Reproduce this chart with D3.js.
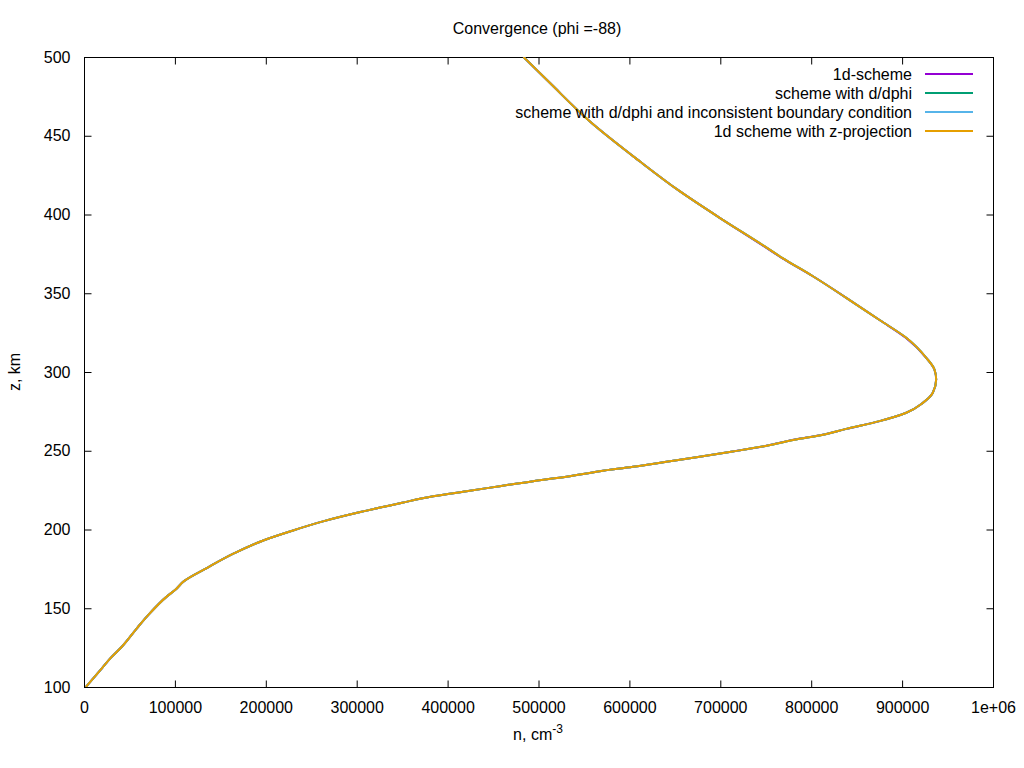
<!DOCTYPE html>
<html>
<head>
<meta charset="utf-8">
<script src="https://cdn.jsdelivr.net/npm/d3@7"></script>
<style>
  body { margin: 0; background: #fff; }
  svg { font-family: "Liberation Sans", Arial, sans-serif; font-size: 16px; }
  text { fill: #000; }
</style>
</head>
<body>
<svg id="chart" width="1024" height="768"></svg>
<script>
//Chart title and axis labels
var title = "Convergence (phi =-88)";
var xTicks = [0, 100000, 200000, 300000, 400000, 500000, 600000, 700000, 800000, 900000, 1000000];
var yTicks = [100, 150, 200, 250, 300, 350, 400, 450, 500];

//Altitude grid shared by all series (km)
var zKm = [100, 112.2, 118.5, 125.9, 137.6, 145, 157.7, 161.9, 167.2, 175.7,
    184.8, 193.2, 198.9, 205.3, 210.6, 214.4, 217, 221.1, 224.3, 227.5,
    230.7, 233.5, 237, 239.8, 243, 246.2, 249.5, 253, 257.6, 259.7,
    263.9, 268.8, 274.1, 280.4, 286.8, 295.2, 301.6, 309, 321.7, 333,
    347.1, 360.8, 372.5, 379.9, 397.9, 414.8, 433.8, 459.2, 483.6, 500];

//Density per scheme (cm^-3)
var n1dScheme = [2000, 20100, 29400, 42100, 58600, 69600, 91600, 100800, 110000, 135600,
    164900, 197900, 227300, 263900, 300500, 329900, 350000, 384100, 420800, 457400,
    494000, 530700, 567400, 604000, 640700, 677300, 713600, 749400, 786300, 808400,
    838600, 875200, 904600, 922800, 933800, 937500, 935600, 926600, 904000, 875200,
    838600, 801900, 767500, 747800, 699300, 655300, 611300, 556300, 512400, 483500];
var nZProjection = [2000, 20100, 29400, 42100, 58600, 69600, 91600, 100800, 110000, 135600,
    164900, 197900, 227300, 263900, 300500, 329900, 350000, 384100, 420800, 457400,
    494000, 530700, 567400, 604000, 640700, 677300, 713600, 749900, 787300, 809200,
    838600, 875200, 904600, 922800, 933800, 937500, 935600, 926600, 904600, 875200,
    838600, 801900, 768000, 748500, 699300, 655300, 611300, 556300, 512400, 483500];
//These two lie exactly under the z-projection curve
var nDphi = nZProjection;
var nDphiInconsistent = nZProjection;

var seriesNames = ["1d-scheme", "scheme with d/dphi", "scheme with d/dphi and inconsistent boundary condition", "1d scheme with z-projection"];
var seriesValues = [n1dScheme, nDphi, nDphiInconsistent, nZProjection];
var seriesColors = ["#9400d3", "#009e73", "#56b4e9", "#e69f00"];

//Plot area
var plotL = 84, plotR = 993, plotT = 57, plotB = 687;

var svg = d3.select("#chart");

var x = d3.scaleLinear().domain([0, 1000000]).range([plotL, plotR]);
var y = d3.scaleLinear().domain([100, 500]).range([plotB, plotT]);

//Clip the curves to the plot area
svg.append("clipPath").attr("id", "plotClip")
    .append("rect")
    .attr("x", plotL).attr("y", plotT)
    .attr("width", plotR - plotL).attr("height", plotB - plotT);

//Axes with inward ticks, mirrored on top and right
var fmtX = function(d){ return d === 1000000 ? "1e+06" : String(d); };

svg.append("g")
    .attr("transform", "translate(0," + (plotB + 0.5) + ")")
    .call(d3.axisBottom(x).tickValues(xTicks).tickSizeInner(-7).tickSizeOuter(0).tickPadding(14).tickFormat(fmtX))
    .call(function(g){
        g.select(".domain").remove();
        g.selectAll("text").attr("font-size", 16).attr("font-family", null);
    });

svg.append("g")
    .attr("transform", "translate(0," + (plotT + 0.5) + ")")
    .call(d3.axisTop(x).tickValues(xTicks.slice(1, -1)).tickSizeInner(-7).tickSizeOuter(0).tickFormat(""))
    .call(function(g){ g.select(".domain").remove(); });

svg.append("g")
    .attr("transform", "translate(" + (plotL + 0.5) + ",0)")
    .call(d3.axisLeft(y).tickValues(yTicks).tickSizeInner(-7).tickSizeOuter(0).tickPadding(14))
    .call(function(g){
        g.select(".domain").remove();
        g.selectAll("text").attr("font-size", 16).attr("font-family", null);
    });

svg.append("g")
    .attr("transform", "translate(" + (plotR + 0.5) + ",0)")
    .call(d3.axisRight(y).tickValues(yTicks.slice(1, -1)).tickSizeInner(-7).tickSizeOuter(0).tickFormat(""))
    .call(function(g){ g.select(".domain").remove(); });

//Border
svg.append("rect")
    .attr("x", plotL + 0.5).attr("y", plotT + 0.5)
    .attr("width", plotR - plotL).attr("height", plotB - plotT)
    .attr("fill", "none").attr("stroke", "#000").attr("stroke-width", 1);

//Curves
var line = d3.line()
    .x(function(d){ return x(d[0]); })
    .y(function(d){ return y(d[1]); })
    .curve(d3.curveMonotoneY);

var curves = svg.append("g").attr("clip-path", "url(#plotClip)");
seriesValues.forEach(function(vals, i){
    curves.append("path")
        .datum(d3.zip(vals, zKm))
        .attr("d", line)
        .attr("fill", "none")
        .attr("stroke", seriesColors[i])
        .attr("stroke-width", 2);
});

//Legend
var legend = svg.append("g");
seriesNames.forEach(function(name, i){
    var ly = 74 + i * 19;
    legend.append("text")
        .attr("x", 912).attr("y", ly)
        .attr("dy", "0.35em")
        .attr("text-anchor", "end")
        .text(name);
    legend.append("line")
        .attr("x1", 925).attr("x2", 973)
        .attr("y1", ly).attr("y2", ly)
        .attr("stroke", seriesColors[i])
        .attr("stroke-width", 2);
});

//Title
svg.append("text")
    .attr("x", 537).attr("y", 28).attr("dy", "0.35em")
    .attr("text-anchor", "middle")
    .text(title);

//Axis labels
var xl = svg.append("text")
    .attr("x", 538).attr("y", 740)
    .attr("text-anchor", "middle");
xl.append("tspan").text("n, cm");
xl.append("tspan").attr("dy", -7).attr("font-size", 12).text("-3");

svg.append("text")
    .attr("transform", "translate(20," + 372 + ") rotate(-90)")
    .attr("text-anchor", "middle")
    .text("z, km");
</script>
</body>
</html>
